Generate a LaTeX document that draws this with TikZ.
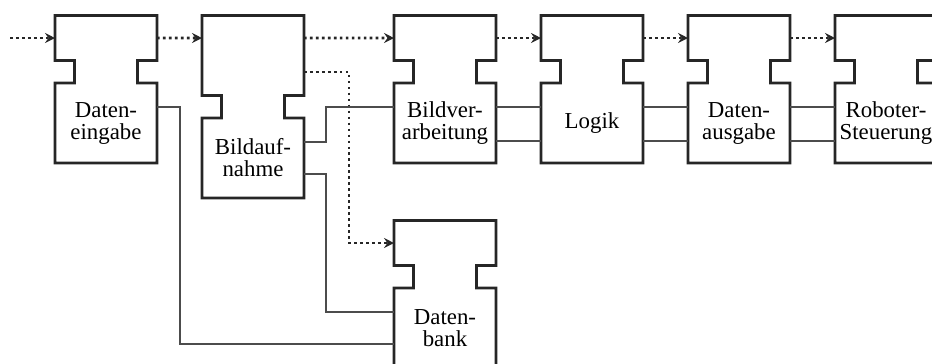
\documentclass[tikz,border=0pt]{standalone}
\usepackage{fontspec}
\setmainfont{Liberation Serif}
\usetikzlibrary{positioning,arrows.meta}

\begin{document}
\begin{tikzpicture}[node distance=0.9cm, every node/.style={font=\fontsize{13}{12.5}\selectfont, align=center},
  block/.style={minimum width=2.04cm, minimum height=1.6cm, inner sep=0pt, outer sep=0pt},
  umriss/.style={line width=1.5pt, draw=black!85, line join=miter},
  leitung/.style={line width=0.7pt, draw=black!70},
  fluss/.style={line width=1.6pt, draw=black!85, dash pattern=on 1.5pt off 1.9pt, -{Stealth[length=2mm, width=2mm, inset=0.7mm]}}]
\useasboundingbox (0,0) rectangle (18.64,-7.26);
\clip (0,0) rectangle (18.64,-7.26);
\node[block] (ein) at (2.12,-2.46) {Daten-\\eingabe};
\node[block, right=of ein, yshift=-0.7cm] (bauf) {Bildauf-\\nahme};
\node[block, right=1.8cm of bauf, yshift=0.7cm] (bver) {Bildver-\\arbeitung};
\node[block, right=of bver] (logik) {Logik};
\node[block, right=of logik] (aus) {Daten-\\ausgabe};
\node[block, right=of aus] (robo) {Roboter-\\Steuerung};
\node[block, below=2.5cm of bver] (bank) {Daten-\\bank};
% Umrisse mit Kerbe
\foreach \n/\h in {ein/0.9cm, bauf/1.6cm, bver/0.9cm, logik/0.9cm, aus/0.9cm, robo/0.9cm, bank/0.9cm} {
  \draw[umriss] (\n.south west) -- (\n.north west) -- ++(0.39,0) -- ++(0,0.45) -- ++(-0.39,0) -- ++(0,\h)
    -- ++(2.04,0) -- ++(0,-\h) -- ++(-0.39,0) -- ++(0,-0.45) -- ++(0.39,0) -- (\n.south east) -- cycle;
  \coordinate (\n-e) at ([yshift=\h]\n.north west);
  \coordinate (\n-a) at ([yshift=\h]\n.north east);
}
\coordinate[left=0.9cm of ein-e] (start);
% Datenfluss
\draw[fluss] (start) -- (ein-e);
\draw[fluss] (ein-a) -- (bauf-e);
\draw[fluss] (bauf-a) -- (bver-e);
\draw[fluss] (bver-a) -- (logik-e);
\draw[fluss] (logik-a) -- (aus-e);
\draw[fluss] (aus-a) -- (robo-e);
\draw[fluss] ([yshift=0.92cm]bauf.north east) -- ++(0.9,0) |- (bank-e);
% Leitungen
\draw[leitung] ([yshift=-0.48cm]ein.north east) -- ++(0.46,0) |- ([yshift=0.48cm]bank.south west);
\draw[leitung] ([yshift=-0.48cm]bauf.north east) -- ++(0.44,0) |- ([yshift=-0.48cm]bver.north west);
\draw[leitung] ([yshift=0.48cm]bauf.south east) -- ++(0.44,0) |- ([yshift=-0.48cm]bank.north west);
\foreach \a/\b in {bver/logik, logik/aus, aus/robo} {
  \draw[leitung] ([yshift=-0.48cm]\a.north east) -- ([yshift=-0.48cm]\b.north west);
  \draw[leitung] ([yshift=0.44cm]\a.south east) -- ([yshift=0.44cm]\b.south west);
}
\end{tikzpicture}
\end{document}
